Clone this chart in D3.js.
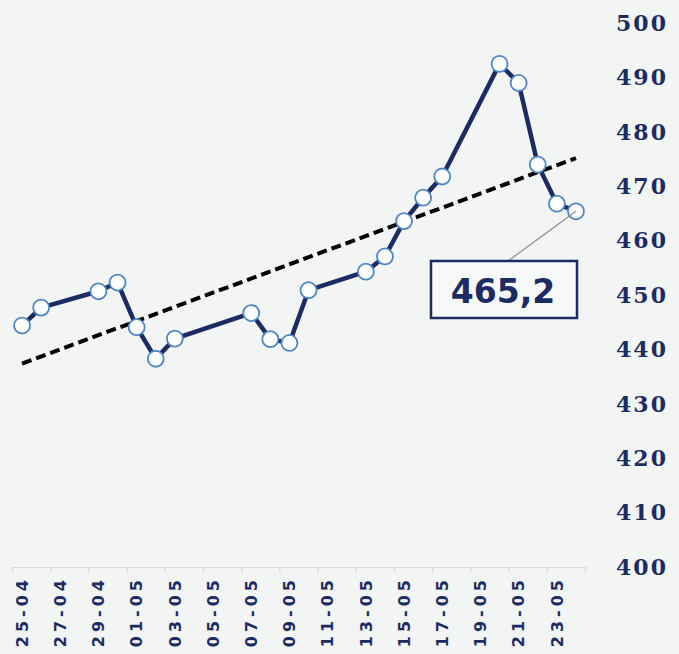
<!DOCTYPE html>
<html>
<head>
<meta charset="utf-8">
<script src="https://cdn.jsdelivr.net/npm/d3@7"></script>
<style>
  html, body { margin: 0; padding: 0; background: #f3f4f4; }
  svg { display: block; }
</style>
</head>
<body>
<svg id="chart" width="679" height="654"></svg>
<script>
// ---- Data ----
const allDays = ["25-04","26-04","27-04","28-04","29-04","30-04","01-05","02-05","03-05","04-05",
  "05-05","06-05","07-05","08-05","09-05","10-05","11-05","12-05","13-05","14-05",
  "15-05","16-05","17-05","18-05","19-05","20-05","21-05","22-05","23-05","24-05"];
const dates = ["25-04","26-04","29-04","30-04","01-05","02-05","03-05","07-05","08-05","09-05",
  "10-05","13-05","14-05","15-05","16-05","17-05","20-05","21-05","22-05","23-05","24-05"];
const values = [444.2,447.5,450.5,452.1,443.9,438.1,441.8,446.5,441.7,441.0,
  450.7,454.1,456.9,463.4,467.7,471.6,492.3,488.8,473.8,466.6,465.2];
const tickLabels = ["25-04","27-04","29-04","01-05","03-05","05-05","07-05","09-05","11-05",
  "13-05","15-05","17-05","19-05","21-05","23-05"];
const yTicks = [400,410,420,430,440,450,460,470,480,490,500];
const lastLabel = "465,2";

// ---- Layout ----
const svg = d3.select("#chart");
const navy = "#1c2b62";
const x = d3.scaleBand().domain(allDays).range([12.5, 585.5]).paddingInner(0).paddingOuter(0);
const y = d3.scaleLinear().domain([400, 500]).range([566, 22]);
const cx = d => x(d) + x.bandwidth() / 2;

// x axis baseline and ticks (every 2 categories)
const xAxisG = svg.append("g").attr("transform", "translate(0,567)");
xAxisG.call(d3.axisBottom(x).tickValues(tickLabels).tickSize(0).tickSizeOuter(0));
xAxisG.select(".domain").attr("stroke", "#d8dadc").attr("stroke-width", 1.2);
xAxisG.selectAll(".tick line").remove();
const boundaries = allDays.filter((d, i) => i % 2 === 0).map(d => x(d)).concat([x.range()[1]]);
xAxisG.selectAll("line.bt").data(boundaries).enter().append("line")
  .attr("class", "bt").attr("x1", d => d).attr("x2", d => d)
  .attr("y1", 0).attr("y2", 6).attr("stroke", "#d8dadc").attr("stroke-width", 1.2);
xAxisG.selectAll(".tick text")
  .attr("transform", "rotate(-90)")
  .attr("text-anchor", "end")
  .attr("x", -9)
  .attr("y", 0)
  .attr("dy", "0.36em")
  .attr("fill", navy)
  .attr("font-family", "DejaVu Sans, Verdana, sans-serif")
  .attr("font-weight", "bold")
  .attr("font-size", 16)
  .attr("letter-spacing", 4);

// y axis on the right, labels only
const yAxisG = svg.append("g").attr("transform", "translate(668,0)");
yAxisG.call(d3.axisRight(y).tickValues(yTicks).tickSize(0).tickFormat(d3.format("d")));
yAxisG.select(".domain").remove();
yAxisG.selectAll(".tick text")
  .attr("x", 0)
  .attr("dy", "0.38em")
  .attr("text-anchor", "end")
  .attr("fill", navy)
  .attr("font-family", "DejaVu Serif, serif")
  .attr("font-weight", "bold")
  .attr("font-size", 22)
  .attr("letter-spacing", 2);

// ---- Trend line (linear regression on day index) ----
const xi = dates.map(d => allDays.indexOf(d));
const n = xi.length;
const mx = d3.mean(xi), my = d3.mean(values);
let sxy = 0, sxx = 0;
for (let i = 0; i < n; i++) { sxy += (xi[i] - mx) * (values[i] - my); sxx += (xi[i] - mx) ** 2; }
const slope = sxy / sxx, icpt = my - slope * mx;
const trendPts = [dates[0], dates[n - 1]].map(d => [cx(d), y(icpt + slope * allDays.indexOf(d))]);

// ---- Series line ----
const line = d3.line().x((d, i) => cx(dates[i])).y(d => y(d));
svg.append("path").datum(values)
  .attr("d", line).attr("fill", "none")
  .attr("stroke", navy).attr("stroke-width", 4.5).attr("stroke-linejoin", "round");

svg.append("path").datum(trendPts)
  .attr("d", d3.line())
  .attr("fill", "none").attr("stroke", "#000").attr("stroke-width", 4)
  .attr("stroke-dasharray", "10,5");

// markers
svg.selectAll("circle.pt").data(values).enter().append("circle")
  .attr("class", "pt")
  .attr("cx", (d, i) => cx(dates[i])).attr("cy", d => y(d))
  .attr("r", 8).attr("fill", "#ffffff")
  .attr("stroke", "#4f86c6").attr("stroke-width", 1.8);

// ---- Callout ----
const lx = cx(dates[n - 1]), ly = y(values[n - 1]);
svg.append("line").attr("x1", 508).attr("y1", 261).attr("x2", lx).attr("y2", ly)
  .attr("stroke", "#8a8a8a").attr("stroke-width", 1.2);
svg.append("rect").attr("x", 431).attr("y", 261).attr("width", 146).attr("height", 57)
  .attr("fill", "#f7f8f8").attr("stroke", navy).attr("stroke-width", 2.5);
svg.append("text").attr("x", 503).attr("y", 303).attr("text-anchor", "middle")
  .attr("fill", navy).attr("font-family", "DejaVu Sans, Verdana, sans-serif")
  .attr("font-weight", "bold").attr("font-size", 33).text(lastLabel);
</script>
</body>
</html>
